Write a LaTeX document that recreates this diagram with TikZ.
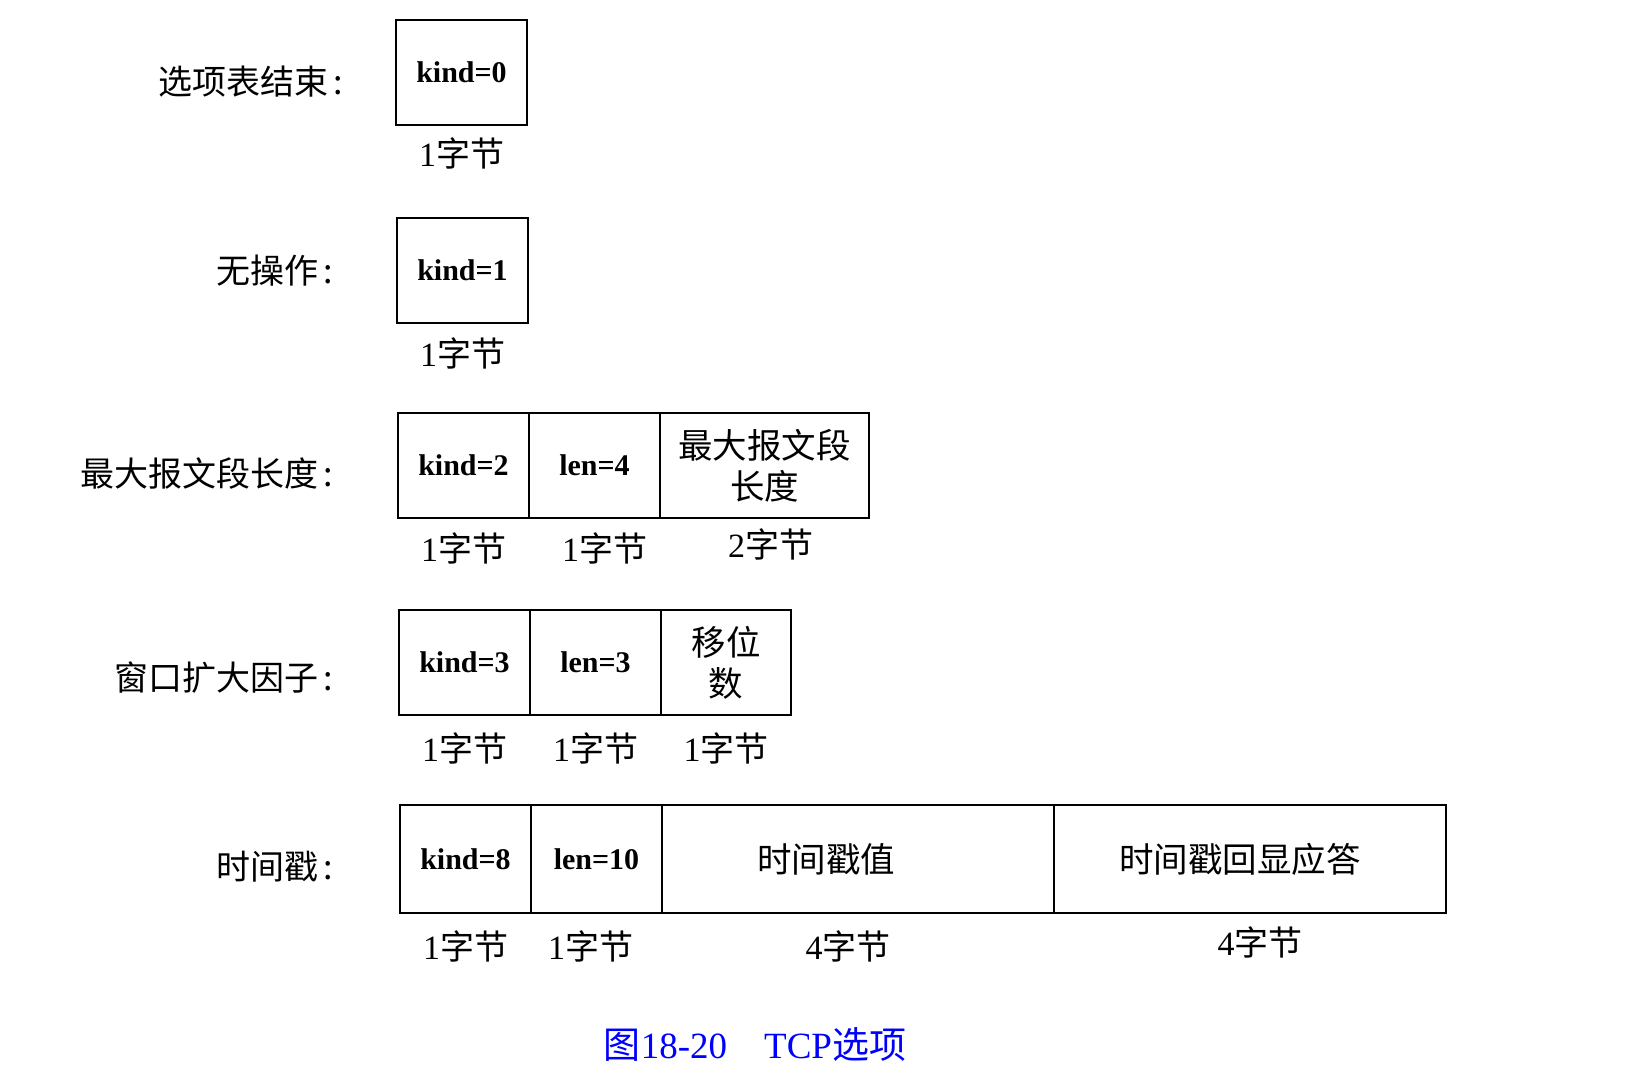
\documentclass[tikz,border=0pt]{standalone}
\usepackage{fontspec}
\setmainfont{Liberation Serif}
\newfontfamily\cjk{Noto Sans CJK SC}
\usetikzlibrary{positioning}
\definecolor{CaptionBlue}{rgb}{0,0,1}
\newcommand{\nbytes}[1]{#1{\cjk 字节}}
\tikzset{
    field/.style={
        rectangle,
        draw=black,
        line width=1.8pt,
        minimum width=131pt,
        minimum height=105pt,
        inner sep=0pt,
        outer sep=0pt,
        align=center,
        font=\fontsize{30}{34}\selectfont\bfseries
    },
    textfield/.style={field, minimum width=#1, font=\fontsize{34.5}{41}\selectfont\cjk},
    optname/.style={anchor=east, font=\fontsize{34}{39}\selectfont\cjk},
    bytes/.style={below=9pt of #1, font=\fontsize{34}{38}\selectfont}
}

\begin{document}
\begin{tikzpicture}[x=1pt, y=-1pt]

\useasboundingbox (0,0) rectangle (1632,1080);

% End of option list
\node[field, anchor=north west] (k0) at (396,20) {kind=0};
\node[bytes=k0] (b0) {\nbytes{1}};
\node[optname] (n0) at (347,82) {选项表结束\,:};

% No operation
\node[field, anchor=north west] (k1) at (397,218) {kind=1};
\node[bytes=k1, below=11pt of k1] (b1) {\nbytes{1}};
\node[optname] (n1) at (337,271) {无操作\,:};

% Maximum segment size
\node[field, anchor=north west] (k2) at (398,413) {kind=2};
\node[field, right=0pt of k2] (l2) {len=4};
\node[textfield=209pt, right=0pt of l2] (mss) {最大报文段\\长度};
\node[bytes=k2, below=11pt of k2] (b2a) {\nbytes{1}};
\node[bytes=l2, below=11pt of l2, xshift=10pt] (b2b) {\nbytes{1}};
\node[bytes=mss, below=11pt of mss, xshift=6pt, yshift=4pt] (b2c) {\nbytes{2}};
\node[optname] (n2) at (337,474) {最大报文段长度\,:};

% Window scale factor
\node[field, anchor=north west] (k3) at (399,610) {kind=3};
\node[field, right=0pt of k3] (l3) {len=3};
\node[textfield=130pt, right=0pt of l3] (shift) {移位\\数};
\node[bytes=k3, below=14pt of k3] (b3a) {\nbytes{1}};
\node[bytes=l3, below=14pt of l3] (b3b) {\nbytes{1}};
\node[bytes=shift, below=14pt of shift] (b3c) {\nbytes{1}};
\node[optname] (n3) at (337,678) {窗口扩大因子\,:};

% Timestamp
\node[field, minimum height=108pt, anchor=north west] (k4) at (400,805) {kind=8};
\node[field, minimum height=108pt, right=0pt of k4] (l4) {len=10};
\node[textfield=392pt, minimum height=108pt, right=0pt of l4] (tsval) {\hspace*{-64pt}时间戳值};
\node[textfield=392pt, minimum height=108pt, right=0pt of tsval] (tsecr) {\hspace*{-20pt}时间戳回显应答};
\node[bytes=k4, below=14pt of k4] (b4a) {\nbytes{1}};
\node[bytes=l4, below=14pt of l4, xshift=-6pt] (b4b) {\nbytes{1}};
\node[bytes=tsval, below=14pt of tsval, xshift=-10pt] (b4c) {\nbytes{4}};
\node[bytes=tsecr, below=10pt of tsecr, xshift=10pt] (b4d) {\nbytes{4}};
\node[optname] (n4) at (337,867) {时间戳\,:};

% Caption
\node[font=\fontsize{37}{41}\selectfont, text=CaptionBlue] (cap) at (755,1044) {{\cjk 图}18-20\hspace{1em}TCP{\cjk 选项}};

\end{tikzpicture}
\end{document}
